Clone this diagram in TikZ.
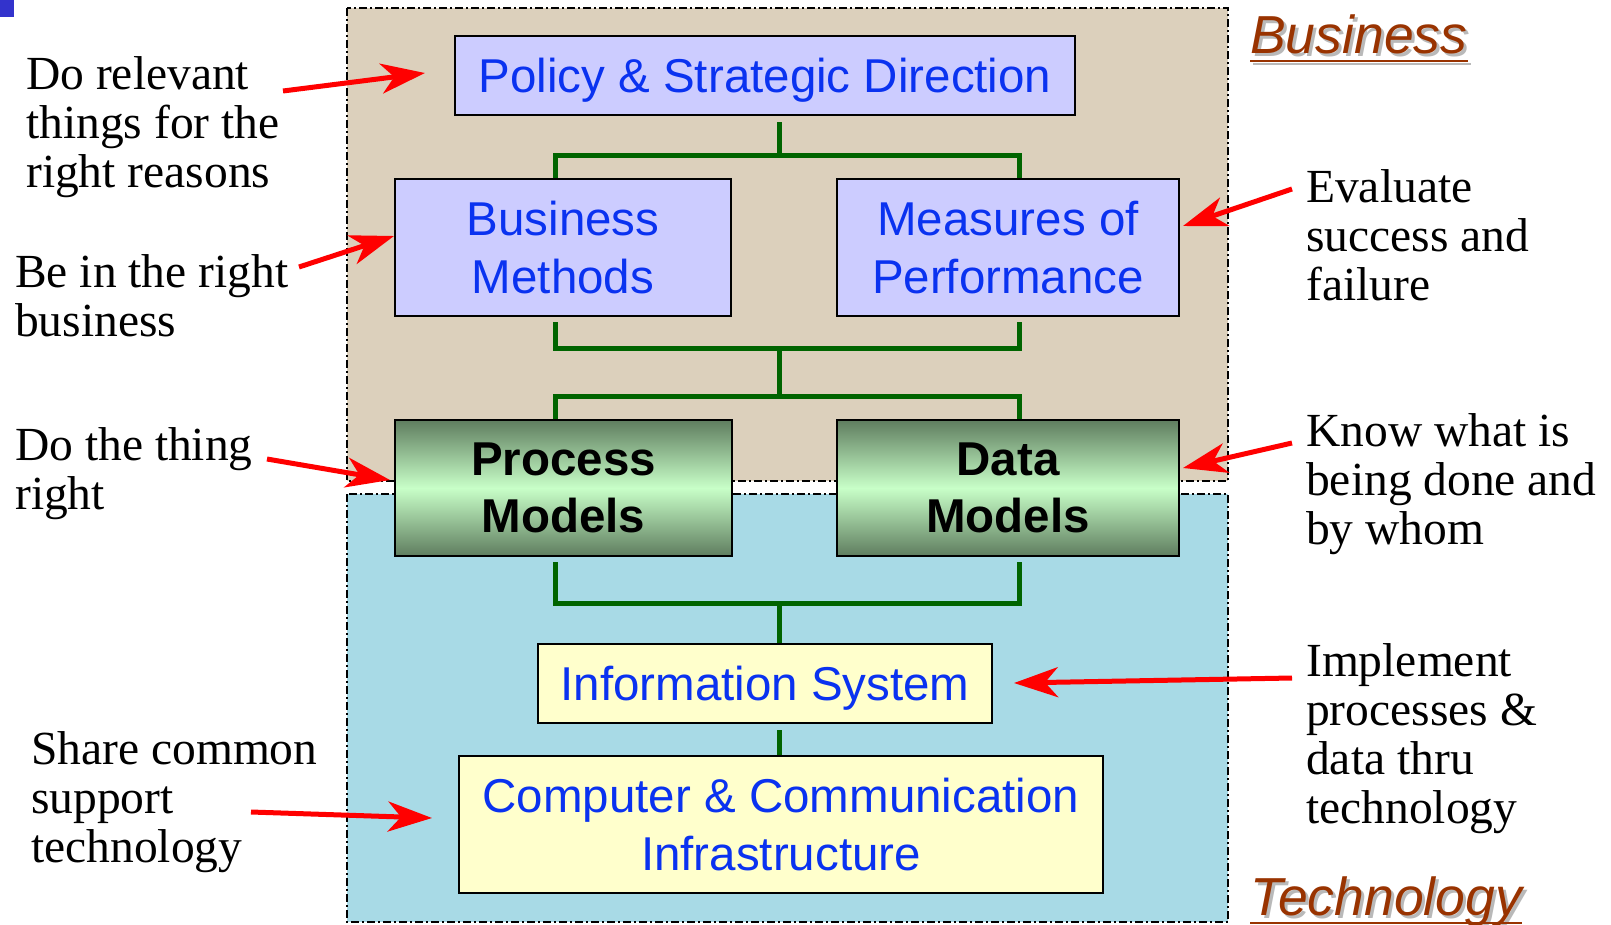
\documentclass[tikz,border=0pt]{standalone}
\usepackage{fontspec}
\setmainfont{Liberation Serif}
\newfontfamily\arialfont{Liberation Sans}
\usetikzlibrary{arrows.meta,calc}
\definecolor{bizbg}{RGB}{220,208,188}
\definecolor{techbg}{RGB}{168,218,230}
\definecolor{boxblue}{RGB}{204,204,255}
\definecolor{boxyellow}{RGB}{255,255,204}
\definecolor{txtblue}{RGB}{10,50,240}
\definecolor{conngreen}{RGB}{0,100,0}
\definecolor{titlebrown}{RGB}{153,51,0}
\definecolor{gdark}{RGB}{95,125,95}
\definecolor{glight}{RGB}{200,255,200}
\definecolor{cornerblue}{RGB}{51,51,204}
\definecolor{shadowgray}{RGB}{185,185,185}
\begin{document}
\begin{tikzpicture}[x=1pt,y=-1pt,
 region/.style={draw=black, line width=1.3pt, dash pattern=on 8pt off 3pt on 2pt off 3pt},
 boxbase/.style={draw=black, line width=2pt, inner sep=0pt, align=center, font=\arialfont\fontsize{47.5}{57.5}\selectfont},
 bluebox/.style={boxbase, fill=boxblue, text=txtblue},
 yellowbox/.style={boxbase, fill=boxyellow, text=txtblue},
 oneline/.style={text depth=0pt},
 greenbox/.style={boxbase, top color=gdark, bottom color=gdark, middle color=glight, text=black, font=\arialfont\bfseries\fontsize{47.5}{57.5}\selectfont},
 conn/.style={draw=conngreen, line width=5pt},
 pointer/.style={draw=red, line width=5pt, -{Stealth[length=44pt,width=30pt,inset=13pt]}},
 note/.style={anchor=base west, inner sep=0pt, font=\fontsize{47.5}{49}\selectfont},
 title/.style={anchor=base west, inner sep=0pt, font=\arialfont\itshape\fontsize{53.5}{60}\selectfont},
]
\path[use as bounding box, fill=white] (0,0) rectangle (1611,924);
\fill[cornerblue] (0,0) rectangle (14,17);

% regions
\draw[region, fill=bizbg] (347,8) rectangle (1228,481);
\draw[region, fill=techbg] (347,494) rectangle (1228,922);

% titles
\node[title, text=shadowgray] (tbizs) at (1253,56) {Business};
\node[title, text=titlebrown] (tbiz) at (1250,53) {Business};
\draw[shadowgray, line width=2.7pt] ([shift={(3pt,-11pt)}]tbiz.base west) -- ([shift={(3pt,-11pt)}]tbiz.base east);
\draw[titlebrown, line width=2.7pt] ([yshift=-8pt]tbiz.base west) -- ([yshift=-8pt]tbiz.base east);
\node[title, text=shadowgray] (ttechs) at (1253,918) {Technology};
\node[title, text=titlebrown] (ttech) at (1250,915) {Technology};
\draw[titlebrown, line width=2.7pt] ([yshift=-8pt]ttech.base west) -- ([yshift=-8pt]ttech.base east);

% boxes
\node[bluebox, oneline, minimum width=620pt, minimum height=79pt] (policy) at (765,75.5) {Policy \& Strategic Direction};
\node[bluebox, minimum width=336pt, minimum height=137pt] (bm) at (563,247.5) {Business\\Methods};
\node[bluebox, minimum width=342pt, minimum height=137pt] (mp) at (1008,247.5) {Measures of\\Performance};
\node[greenbox, minimum width=337pt, minimum height=136pt] (pm) at (563.5,488) {Process\\Models};
\node[greenbox, minimum width=342pt, minimum height=136pt] (dm) at (1008,488) {Data\\Models};
\node[yellowbox, oneline, minimum width=454pt, minimum height=79pt] (is) at (765,683.5) {Information System};
\node[yellowbox, minimum width=644pt, minimum height=137pt] (cc) at (781,824.5) {Computer \& Communication\\Infrastructure};

% connector helper coordinates
\coordinate (xl) at (555,0);
\coordinate (xr) at (1019,0);
\coordinate (xc) at (779,0);
\coordinate (y1) at (0,155);
\coordinate (y2) at (0,348);
\coordinate (y3) at (0,396);
\coordinate (y4) at (0,603);

\draw[conn] ([yshift=-6pt]xc |- policy.south) -- (xc |- y1);
\draw[conn] (xl |- bm.north) -- (xl |- y1) -- (xr |- y1) -- (xr |- mp.north);
\draw[conn] ([yshift=-5pt]xl |- bm.south) -- (xl |- y2) -- (xr |- y2) -- ([yshift=-5pt]xr |- mp.south);
\draw[conn] (xc |- y2) -- (xc |- y3);
\draw[conn] (xl |- pm.north) -- (xl |- y3) -- (xr |- y3) -- (xr |- dm.north);
\draw[conn] ([yshift=-5pt]xl |- pm.south) -- (xl |- y4) -- (xr |- y4) -- ([yshift=-5pt]xr |- dm.south);
\draw[conn] (xc |- y4) -- (xc |- is.north);
\draw[conn] ([yshift=-6pt]xc |- is.south) -- (xc |- cc.north);

% annotations
\node[note] (n1) at (26,89) {\begin{tabular}[t]{@{}l@{}}Do relevant\\things for the\\right reasons\end{tabular}};
\node[note] (n2) at (15,287) {\begin{tabular}[t]{@{}l@{}}Be in the right\\business\end{tabular}};
\node[note] (n3) at (15,460) {\begin{tabular}[t]{@{}l@{}}Do the thing\\right\end{tabular}};
\node[note] (n4) at (31,764) {\begin{tabular}[t]{@{}l@{}}Share common\\support\\technology\end{tabular}};
\node[note] (n5) at (1306,202) {\begin{tabular}[t]{@{}l@{}}Evaluate\\success and\\failure\end{tabular}};
\node[note] (n6) at (1306,446) {\begin{tabular}[t]{@{}l@{}}Know what is\\being done and\\by whom\end{tabular}};
\node[note] (n7) at (1306,676) {\begin{tabular}[t]{@{}l@{}}Implement\\processes \&\\data thru\\technology\end{tabular}};

% arrow end points
\coordinate (a1s) at (283,91);   \coordinate (a1e) at (425,73);
\coordinate (a2s) at (299,267);  \coordinate (a2e) at (394,236);
\coordinate (a3s) at (267,459);  \coordinate (a3e) at (390,480);
\coordinate (a4s) at (251,812);  \coordinate (a4e) at (432,818);
\coordinate (a5s) at (1292,189); \coordinate (a5e) at (1183,226);
\coordinate (a6s) at (1292,443); \coordinate (a6e) at (1183,468);
\coordinate (a7s) at (1292,678); \coordinate (a7e) at (1014,683);
\foreach \i in {1,...,7} {\draw[pointer] (a\i s) -- (a\i e);}
\end{tikzpicture}
\end{document}
